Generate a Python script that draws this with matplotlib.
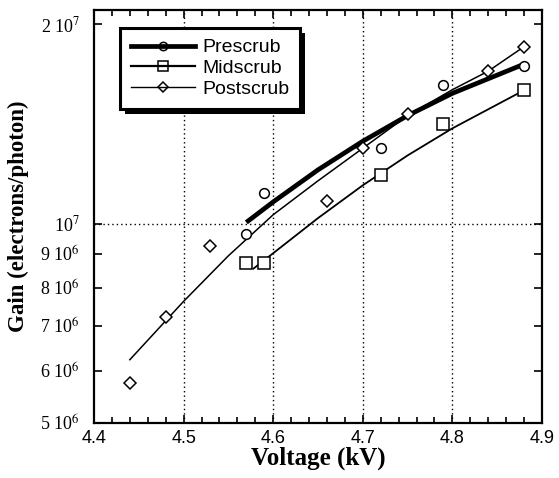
import matplotlib
matplotlib.use('Agg')
import matplotlib.pyplot as plt
from matplotlib.lines import Line2D
from matplotlib.patches import Rectangle
from matplotlib.transforms import IdentityTransform
from matplotlib.ticker import FixedLocator, FixedFormatter, MultipleLocator, NullLocator, FormatStrFormatter

plt.rcParams['font.family'] = ['Liberation Serif', 'DejaVu Serif']
plt.rcParams['mathtext.fontset'] = 'stix'

# measured points
pre_v = [4.57, 4.59, 4.72, 4.79, 4.88]
pre_g = [9.65e6, 1.11e7, 1.30e7, 1.62e7, 1.73e7]
mid_v = [4.57, 4.59, 4.72, 4.79, 4.88]
mid_g = [8.72e6, 8.72e6, 1.185e7, 1.414e7, 1.589e7]
post_v = [4.44, 4.48, 4.53, 4.66, 4.70, 4.75, 4.84, 4.88]
post_g = [5.74e6, 7.22e6, 9.26e6, 1.08e7, 1.30e7, 1.465e7, 1.697e7, 1.847e7]

# fitted curves as drawn in the figure
pre_fit_v = [4.57, 4.60, 4.65, 4.70, 4.75, 4.80, 4.88]
pre_fit_g = [1.004e7, 1.078e7, 1.205e7, 1.331e7, 1.455e7, 1.572e7, 1.740e7]
mid_fit_v = [4.578, 4.60, 4.65, 4.70, 4.75, 4.80, 4.88]
mid_fit_g = [8.55e6, 9.02e6, 1.019e7, 1.142e7, 1.267e7, 1.392e7, 1.589e7]
post_fit_v = [4.44, 4.50, 4.55, 4.60, 4.65, 4.70, 4.75, 4.80, 4.84, 4.88]
post_fit_g = [6.23e6, 7.63e6, 8.94e6, 1.031e7, 1.160e7, 1.299e7, 1.455e7, 1.592e7, 1.698e7, 1.849e7]

series_names = ['Prescrub', 'Midscrub', 'Postscrub']

ytick_vals = [5e6, 6e6, 7e6, 8e6, 9e6, 1e7, 2e7]
ytick_labels = [r'5 10$^{6}$', r'6 10$^{6}$', r'7 10$^{6}$', r'8 10$^{6}$',
                r'9 10$^{6}$', r'10$^{7}$', r'2 10$^{7}$']

fig = plt.figure(figsize=(5.59, 4.78), dpi=100)
ax = fig.add_axes([94/559, 1-423/478, 448/559, 413/478])

ax.set_yscale('log')
ax.set_xlim(4.4, 4.9)
ax.set_ylim(5e6, 2.1e7)

# grid
for xv in [4.5, 4.6, 4.7, 4.8]:
    ax.axvline(xv, color='black', lw=1.0, ls=(0, (1, 2.2)), zorder=1)
ax.axhline(1e7, color='black', lw=1.0, ls=(0, (1, 2.2)), zorder=1)

# curves
ax.plot(pre_fit_v, pre_fit_g, color='black', lw=3.4, solid_capstyle='butt', zorder=3)
ax.plot(mid_fit_v, mid_fit_g, color='black', lw=1.3, zorder=3)
ax.plot(post_fit_v, post_fit_g, color='black', lw=1.1, zorder=3)

# markers
ax.plot(pre_v, pre_g, ls='none', marker='o', ms=7, mfc='white', mec='black', mew=1.1, zorder=4)
ax.plot(mid_v, mid_g, ls='none', marker='s', ms=8, mfc='white', mec='black', mew=1.1, zorder=4)
ax.plot(post_v, post_g, ls='none', marker='D', ms=6, mfc='white', mec='black', mew=1.1, zorder=4)

# ticks
ax.yaxis.set_major_locator(FixedLocator(ytick_vals))
ax.yaxis.set_major_formatter(FixedFormatter(ytick_labels))
ax.yaxis.set_minor_locator(NullLocator())
ax.xaxis.set_major_locator(MultipleLocator(0.1))
ax.xaxis.set_minor_locator(MultipleLocator(0.02))
ax.xaxis.set_major_formatter(FormatStrFormatter('%.1f'))
ax.tick_params(which='both', direction='in', top=True, right=True, width=1.2)
ax.tick_params(which='major', length=6)
ax.tick_params(which='minor', length=4)
ax.tick_params(axis='y', which='major', pad=10)
ax.tick_params(axis='x', which='major', pad=5)
for lab in ax.get_yticklabels():
    lab.set_fontsize(13)
for lab in ax.get_xticklabels():
    lab.set_fontfamily('Liberation Sans')
    lab.set_fontsize(13)
for sp in ax.spines.values():
    sp.set_linewidth(1.6)

ax.set_xlabel('Voltage (kV)', fontsize=18, fontweight='bold', labelpad=0)
ax.set_ylabel('Gain (electrons/photon)', fontsize=16.5, fontweight='bold', labelpad=8)

handles = [
    Line2D([], [], color='black', lw=3.4, marker='o', ms=6, mfc='none', mec='black', mew=1.1),
    Line2D([], [], color='black', lw=1.6, marker='s', ms=7, mfc='none', mec='black', mew=1.1),
    Line2D([], [], color='black', lw=1.0, marker='D', ms=5, mfc='none', mec='black', mew=1.1),
]
leg = ax.legend(handles, series_names, loc='upper left', bbox_to_anchor=(0.058, 0.956),
                borderaxespad=0, fancybox=False, framealpha=1, edgecolor='black',
                prop={'family': 'Liberation Sans', 'size': 14}, handlelength=3.3,
                handletextpad=0.4, labelspacing=0.16, borderpad=0.55)
leg.get_frame().set_linewidth(2.2)
leg.set_zorder(6)

fig.canvas.draw()
bb = leg.get_frame().get_window_extent()
shadow = Rectangle((bb.x0 + 5, bb.y0 - 5), bb.width, bb.height, transform=IdentityTransform(),
                   facecolor='black', edgecolor='none', zorder=5.5, clip_on=False)
ax.add_artist(shadow)

fig.savefig('out.png', dpi=100)
